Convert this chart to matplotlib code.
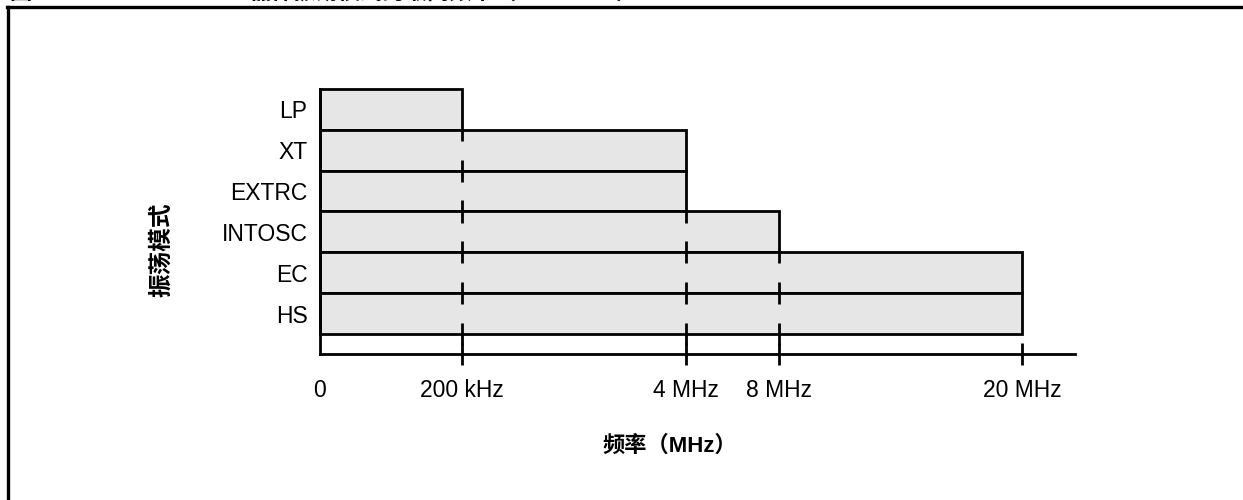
import numpy as np
import matplotlib
matplotlib.use('Agg')
import matplotlib.pyplot as plt
from matplotlib.lines import Line2D

plt.rcParams['font.family'] = ['Liberation Sans', 'DejaVu Sans']

# 振荡模式 (从上到下) 和各自的最高频率 (MHz)
modes = ['LP', 'XT', 'EXTRC', 'INTOSC', 'EC', 'HS']
max_freq = [0.2, 4, 4, 8, 20, 20]
tick_freq = [0, 0.2, 4, 8, 20]
tick_labels = ['0', '200 kHz', '4 MHz', '8 MHz', '20 MHz']
dash_freq = [0.2, 4, 8]

# 非线性横轴: 刻度值 -> 像素距离
scale_freq = [0, 0.2, 4, 8, 20, 40]
scale_px = [0, 142, 366, 459, 702, 1107]


def fwd(x):
    return np.interp(x, scale_freq, scale_px)


def inv(p):
    return np.interp(p, scale_px, scale_freq)


W, H = 1243, 500
LW = 2.0
fig = plt.figure(figsize=(W / 100, H / 100), dpi=100)
fig.set_facecolor('white')
ax = fig.add_axes([320 / W, 1 - 354 / H, 755 / W, (354 - 89) / H])
ax.set_xscale('function', functions=(fwd, inv))

ys = np.arange(len(modes))[::-1]
ax.barh(ys, max_freq, height=1.0, left=0, color='#e6e6e6',
        edgecolor='black', linewidth=LW, clip_on=False, zorder=2)

# 虚线分隔
for f in dash_freq:
    top = max(y + 0.5 for y, w in zip(ys, max_freq) if w > f)
    for b in np.arange(top, -0.5 - 1e-9, -1.0):
        y0 = b - 0.27
        y1 = min(b + 0.27, top)
        ax.plot([f, f], [y0, y1], color='black', lw=LW, zorder=3,
                solid_capstyle='butt')

ax.set_xlim(0, inv(755))
ax.set_ylim(-0.99, 5.5)

for s in ['top', 'right']:
    ax.spines[s].set_visible(False)
for s in ['left', 'bottom']:
    ax.spines[s].set_linewidth(LW)

ax.set_xticks(tick_freq)
ax.set_xticklabels(tick_labels, fontsize=16.5)
ax.xaxis.set_minor_locator(plt.NullLocator())
ax.tick_params(axis='x', direction='inout', length=16, width=LW, pad=10)
ax.xaxis.get_major_ticks()[0].tick1line.set_visible(False)

ax.set_yticks(ys)
ax.set_yticklabels(modes, fontsize=16.5)
ax.tick_params(axis='y', length=0, pad=9)

cjk = ['Liberation Sans', 'Noto Sans CJK SC']
fig.text(162 / W, 1 - 250 / H, '振荡模式', rotation=90, ha='center', va='center',
         fontsize=17, fontweight='bold', family=cjk)
fig.text(670 / W, 1 - 446 / H, '频率（MHz）', ha='center', va='center',
         fontsize=16, fontweight='bold', family=cjk)

# 被裁切的图标题
fig.text(10 / W, 1 - 4 / H, '图 15-1:', ha='left', va='bottom',
         fontsize=16, fontweight='bold', family=cjk)
fig.text(250 / W, 1 - 4 / H, '器件振荡模式的最高频率（PIC16F88）', ha='left', va='bottom',
         fontsize=16, fontweight='bold', family=cjk)

# 外框
fig.add_artist(Line2D([8 / W, 8 / W], [0, 1 - 7 / H], transform=fig.transFigure,
                      color='black', lw=2.4))
fig.add_artist(Line2D([8 / W - 0.0009, 1], [1 - 7 / H, 1 - 7 / H], transform=fig.transFigure,
                      color='black', lw=2.4))

plt.savefig('out.png', dpi=100, facecolor='white')
